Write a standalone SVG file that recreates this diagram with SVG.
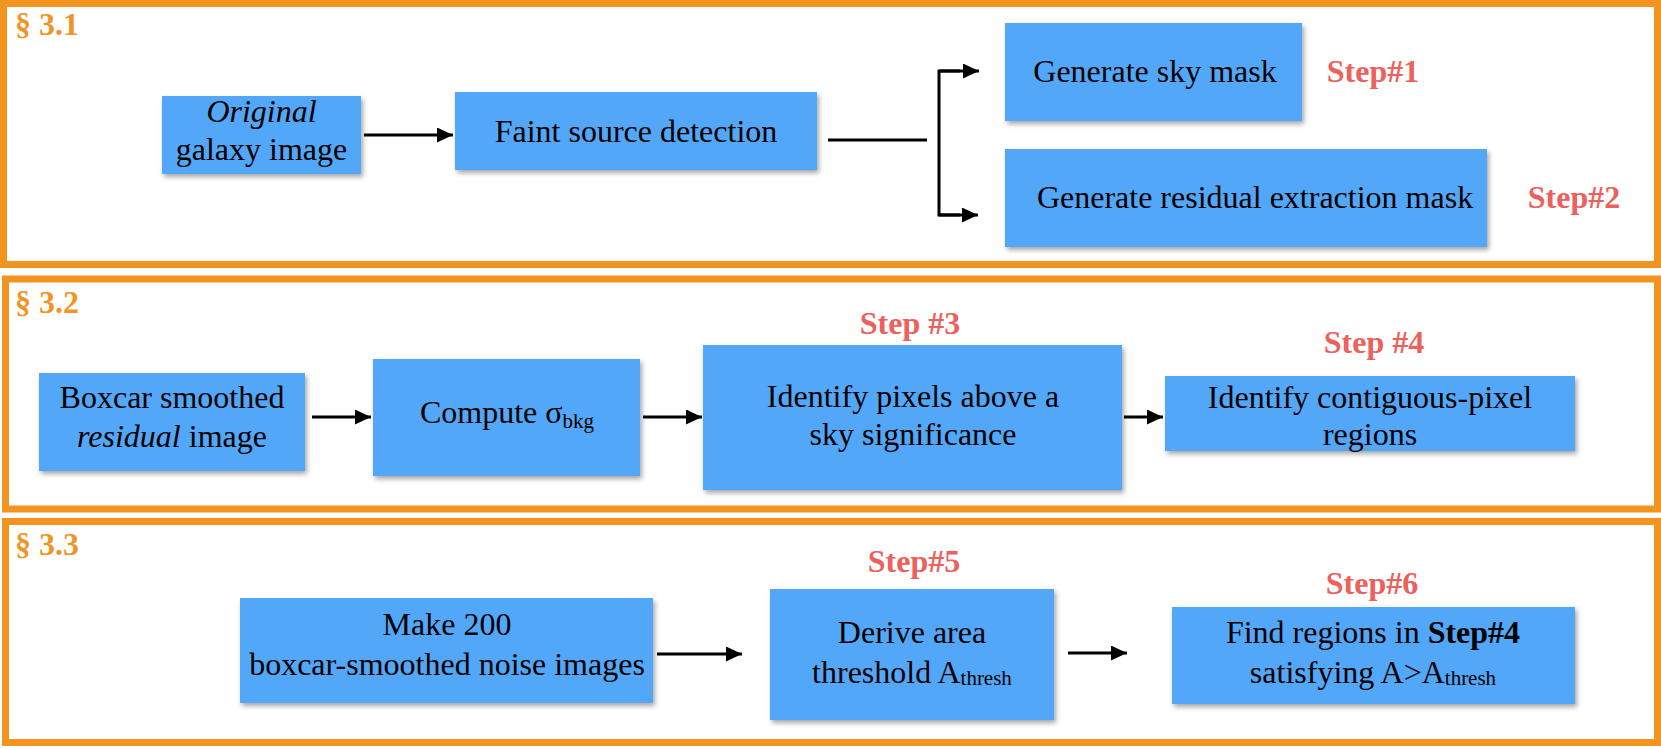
<svg xmlns="http://www.w3.org/2000/svg" width="1661" height="749" viewBox="0 0 1661 749">
<style>
.panel{fill:none;stroke:#F39320;stroke-width:7}
.sec{font-family:"Liberation Serif",serif;font-weight:bold;font-size:32px;fill:#F29425}
.box{fill:#52A7F9;filter:url(#sh)}
.t{font-family:"Liberation Serif",serif;font-size:32px;fill:#000;text-anchor:middle}
.step{font-family:"Liberation Serif",serif;font-weight:bold;font-size:32px;fill:#EC615B;text-anchor:middle}
.sub{font-size:21px}
.c{fill:none;stroke:#000;stroke-width:3}
</style>
<defs>
<filter id="sh" x="-10%" y="-10%" width="120%" height="130%">
<feDropShadow dx="2" dy="3" stdDeviation="2.5" flood-color="#000" flood-opacity="0.35"/>
</filter>
<marker id="ah" markerUnits="userSpaceOnUse" markerWidth="17" markerHeight="16" refX="16" refY="7.5" orient="auto">
<path d="M0,0 L16,7.5 L0,15 z" fill="#000"/>
</marker>
</defs>
<rect width="1661" height="749" fill="#fff"/>
<g id="panel-3-1">
<rect class="panel" x="3.5" y="3.5" width="1654" height="261"/>
<text class="sec" x="15" y="35">§ 3.1</text>
</g>
<g id="panel-3-2">
<rect class="panel" x="5.5" y="279" width="1652" height="230"/>
<text class="sec" x="15" y="313">§ 3.2</text>
</g>
<g id="panel-3-3">
<rect class="panel" x="5.5" y="521.5" width="1652" height="221"/>
<text class="sec" x="15" y="555">§ 3.3</text>
</g>
<g id="connectors">
<line class="c" x1="364" y1="135" x2="453" y2="135" marker-end="url(#ah)"/>
<line class="c" x1="828" y1="140" x2="927" y2="140"/>
<polyline class="c" points="960,71 939,71 939,215 960,215"/>
<line class="c" x1="939" y1="71" x2="979" y2="71" marker-end="url(#ah)"/>
<line class="c" x1="939" y1="215" x2="978" y2="215" marker-end="url(#ah)"/>
<line class="c" x1="312" y1="417" x2="371" y2="417" marker-end="url(#ah)"/>
<line class="c" x1="643" y1="417" x2="702" y2="417" marker-end="url(#ah)"/>
<line class="c" x1="1124" y1="417" x2="1163" y2="417" marker-end="url(#ah)"/>
<line class="c" x1="657" y1="654" x2="742" y2="654" marker-end="url(#ah)"/>
<line class="c" x1="1068" y1="653" x2="1127" y2="653" marker-end="url(#ah)"/>
</g>
<g id="n-original">
<rect class="box" x="162" y="96" width="199" height="78"/>
<text class="t" x="261.5" y="122" font-style="italic">Original</text>
<text class="t" x="261.5" y="160">galaxy image</text>
</g>
<g id="n-faint">
<rect class="box" x="455" y="92" width="362" height="78"/>
<text class="t" x="636" y="142">Faint source detection</text>
</g>
<g id="n-sky">
<rect class="box" x="1005" y="23" width="297" height="98"/>
<text class="t" x="1155" y="82">Generate sky mask</text>
<text class="step" x="1373" y="82">Step#1</text>
</g>
<g id="n-residual">
<rect class="box" x="1005" y="149" width="482" height="98"/>
<text class="t" x="1255" y="208">Generate residual extraction mask</text>
<text class="step" x="1574" y="208">Step#2</text>
</g>
<g id="n-boxcar">
<rect class="box" x="39" y="373" width="266" height="98"/>
<text class="t" x="172" y="408">Boxcar smoothed</text>
<text class="t" x="172" y="447"><tspan font-style="italic">residual</tspan> image</text>
</g>
<g id="n-compute">
<rect class="box" x="373" y="359" width="267" height="117"/>
<text class="t" x="507" y="423">Compute σ<tspan class="sub" dy="5">bkg</tspan></text>
</g>
<g id="n-identify-pixels">
<rect class="box" x="703" y="345" width="419" height="145"/>
<text class="step" x="910" y="334">Step #3</text>
<text class="t" x="913" y="407">Identify pixels above a</text>
<text class="t" x="913" y="445">sky significance</text>
</g>
<g id="n-contiguous">
<rect class="box" x="1165" y="376" width="410" height="75"/>
<text class="step" x="1374" y="353">Step #4</text>
<text class="t" x="1370" y="408">Identify contiguous-pixel</text>
<text class="t" x="1370" y="445">regions</text>
</g>
<g id="n-make200">
<rect class="box" x="240" y="598" width="413" height="105"/>
<text class="t" x="447" y="635">Make 200</text>
<text class="t" x="447" y="675">boxcar-smoothed noise images</text>
</g>
<g id="n-derive">
<rect class="box" x="770" y="589" width="284" height="131"/>
<text class="step" x="914" y="572">Step#5</text>
<text class="t" x="912" y="643">Derive area</text>
<text class="t" x="912" y="683">threshold A<tspan class="sub" dy="2">thresh</tspan></text>
</g>
<g id="n-find">
<rect class="box" x="1172" y="607" width="403" height="97"/>
<text class="step" x="1372" y="594">Step#6</text>
<text class="t" x="1373" y="643">Find regions in <tspan font-weight="bold">Step#4</tspan></text>
<text class="t" x="1373" y="683">satisfying A&gt;A<tspan class="sub" dy="2">thresh</tspan></text>
</g>
</svg>
